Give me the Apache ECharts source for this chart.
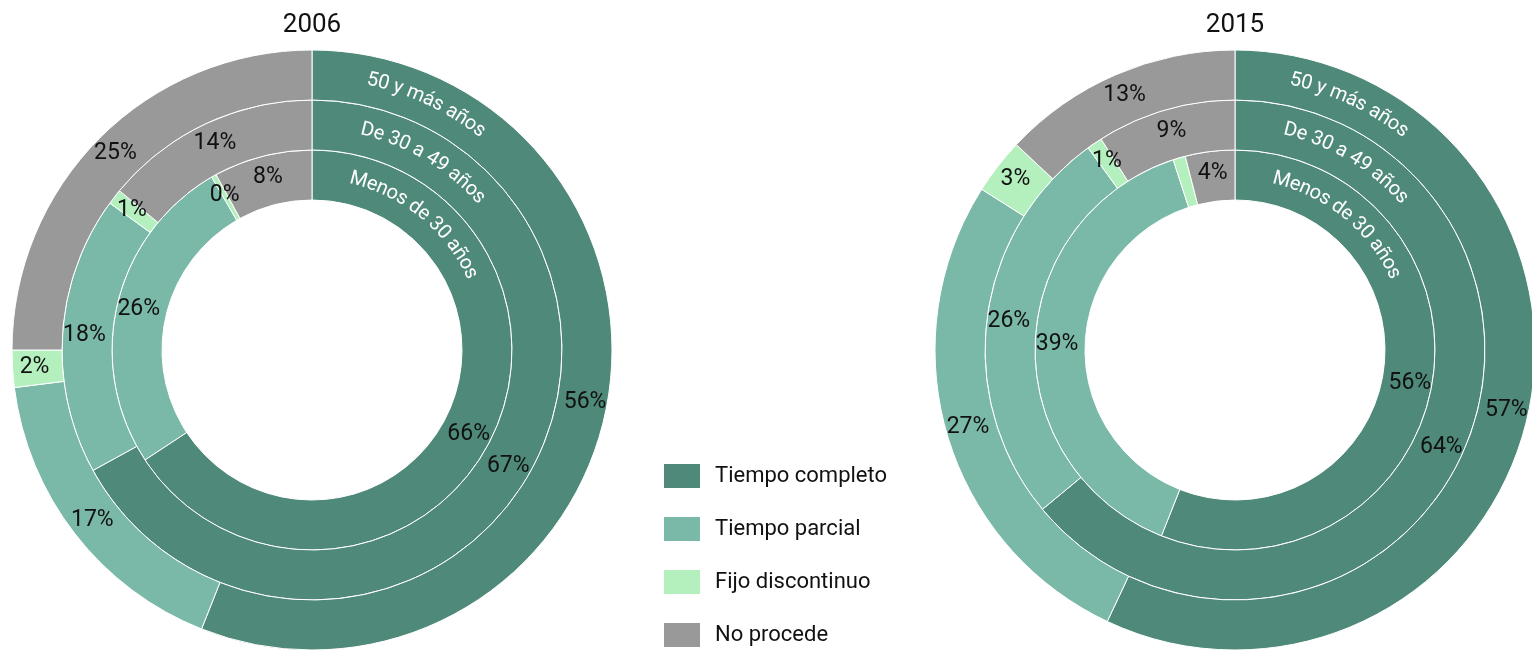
<!DOCTYPE html>
<html>
<head>
<meta charset="utf-8">
<script src="https://cdn.jsdelivr.net/npm/echarts@6/dist/echarts.min.js"></script>
<style>
html,body{margin:0;padding:0;background:#fff;}
#chart{width:1532px;height:650px;}
</style>
</head>
<body>
<div id="chart"></div>
<script>
// ---- data ----
const categories = ['Tiempo completo', 'Tiempo parcial', 'Fijo discontinuo', 'No procede'];
const ringNames = ['Menos de 30 años', 'De 30 a 49 años', '50 y más años'];
const years = ['2006', '2015'];
const v2006_menos30 = [66, 26, 0.4, 8];
const v2006_30a49 = [67, 18, 1, 14];
const v2006_50mas = [56, 17, 2, 25];
const v2015_menos30 = [56, 39, 1, 4];
const v2015_30a49 = [64, 26, 1, 9];
const v2015_50mas = [57, 27, 3, 13];

// ---- layout / style ----
const colors = ['#4e897a', '#7ab8a8', '#b4f0be', '#999999'];
const centers = [[312, 350], [1235, 350]];
const rings = [[150, 200], [200, 250], [250, 300]];
const ringTextStart = [12.5, 12.5, 11.5]; // degrees clockwise from top
const FONT = 'Roboto, "Liberation Sans", Arial, sans-serif';

const yearData = [
  [v2006_menos30, v2006_30a49, v2006_50mas],
  [v2015_menos30, v2015_30a49, v2015_50mas]
];

const series = [];
yearData.forEach((rs, yi) => {
  rs.forEach((vals, ri) => {
    series.push({
      type: 'pie',
      name: years[yi] + ' ' + ringNames[ri],
      center: centers[yi],
      radius: rings[ri],
      startAngle: 90,
      clockwise: true,
      avoidLabelOverlap: false,
      silent: true,
      emphasis: { disabled: true },
      itemStyle: { borderColor: '#ffffff', borderWidth: 1 },
      label: {
        show: true,
        position: 'inside',
        color: '#111',
        fontSize: 23,
        fontFamily: FONT,
        formatter: p => Math.round(p.value) + '%'
      },
      labelLine: { show: false },
      data: categories.map((c, i) => ({ name: c, value: vals[i] }))
    });
  });
});

// curved ring labels
const ctx = document.createElement('canvas').getContext('2d');
const ringFont = 20;
ctx.font = ringFont + 'px ' + FONT;
const graphics = [];
years.forEach((y, yi) => {
  graphics.push({
    type: 'text', z: 100,
    style: { text: y, x: centers[yi][0], y: 25, align: 'center', verticalAlign: 'middle',
      fill: '#111', font: '26px ' + FONT }
  });
  ringNames.forEach((name, ri) => {
    const r = (rings[ri][0] + rings[ri][1]) / 2 + 1;
    const [cx, cy] = centers[yi];
    let cum = 0;
    for (const ch of name) {
      const w = ctx.measureText(ch).width;
      const a = ringTextStart[ri] * Math.PI / 180 + (cum + w / 2) / r;
      cum += w;
      if (ch === ' ') continue;
      graphics.push({
        type: 'text', z: 100,
        x: cx + r * Math.sin(a), y: cy - r * Math.cos(a),
        rotation: -a,
        style: { text: ch, x: 0, y: 0, align: 'center', verticalAlign: 'middle',
          fill: '#ffffff', font: ringFont + 'px ' + FONT }
      });
    }
  });
});

const chart = echarts.init(document.getElementById('chart'));
chart.setOption({
  animation: false,
  color: colors,
  legend: {
    orient: 'vertical',
    left: 662,
    top: 462,
    height: 220,
    padding: 0,
    itemWidth: 38,
    itemHeight: 26,
    itemGap: 25,
    icon: 'rect',
    selectedMode: false,
    data: categories,
    textStyle: { fontSize: 22, color: '#111', fontFamily: FONT, padding: [0, 0, 0, 9] }
  },
  graphic: graphics,
  series: series
});
</script>
</body>
</html>
